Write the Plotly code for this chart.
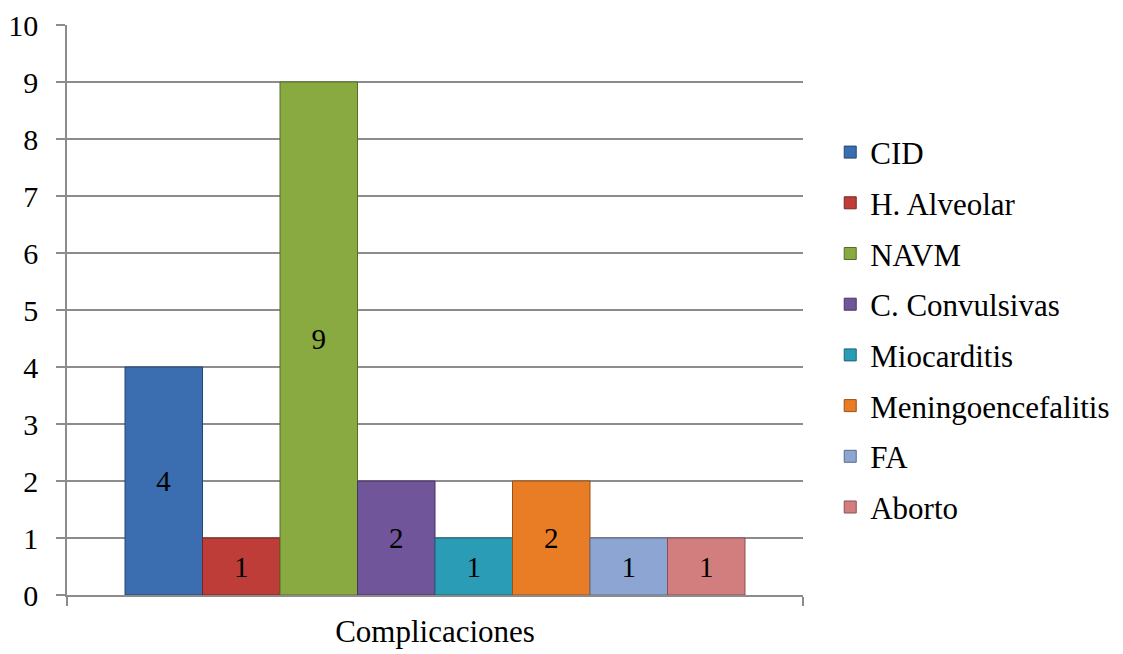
import plotly.graph_objects as go

# Complications counts, one bar per complication within a single category
category = ["Complicaciones"]
series_names = ["CID", "H. Alveolar", "NAVM", "C. Convulsivas", "Miocarditis",
                "Meningoencefalitis", "FA", "Aborto"]
series_values = [4, 1, 9, 2, 1, 2, 1, 1]
fill_colors = ["#3b6eb0", "#be3d38", "#88aa40", "#71559a", "#2b9cb6",
               "#e97d25", "#8ca5d2", "#d27e7e"]
edge_colors = ["#24466f", "#7a2422", "#566d27", "#473563", "#1b6475",
               "#9a5117", "#5a6b8a", "#8a5050"]
y_ticks = list(range(0, 11))

FONT = "Liberation Serif"
GRID = "#8c8c8c"

fig = go.Figure()
for name, val, fc, ec in zip(series_names, series_values, fill_colors, edge_colors):
    fig.add_trace(go.Bar(
        x=category, y=[val], name=name, legendgroup=name,
        marker=dict(color=fc, line=dict(color=ec, width=1)),
        text=[str(val)], textposition="inside", insidetextanchor="middle",
        textangle=0, constraintext="none",
        textfont=dict(family=FONT, size=29, color="black"),
    ))

fig.update_layout(
    width=1123, height=654,
    margin=dict(l=67, r=320, t=25, b=59, autoexpand=False),
    paper_bgcolor="white", plot_bgcolor="white",
    barmode="group", bargap=0.1576, bargroupgap=0,
    font=dict(family=FONT, color="black"),
    showlegend=True,
    legend=dict(
        x=1.037, xanchor="left", y=0.465, yanchor="middle",
        font=dict(family=FONT, size=31, color="black"),
        traceorder="grouped", tracegroupgap=7.4,
        itemwidth=30, bgcolor="rgba(0,0,0,0)",
    ),
    xaxis=dict(
        type="category", showline=True, linecolor=GRID, linewidth=2,
        ticks="outside", tickson="boundaries", ticklen=9, tickcolor=GRID,
        tickwidth=1.5, showgrid=False, automargin=False,
        ticklabelstandoff=8,
        tickfont=dict(family=FONT, size=31, color="black"),
    ),
    yaxis=dict(
        range=[0, 10], tickvals=y_ticks, showline=True, linecolor=GRID,
        linewidth=1.5, showgrid=True, gridcolor=GRID, gridwidth=1.5,
        ticks="outside", ticklen=9, tickcolor=GRID, tickwidth=1.5,
        zeroline=False, ticklabelstandoff=12, automargin=False,
        tickfont=dict(family=FONT, size=30, color="black"),
    ),
)

fig.write_html("out.html")
